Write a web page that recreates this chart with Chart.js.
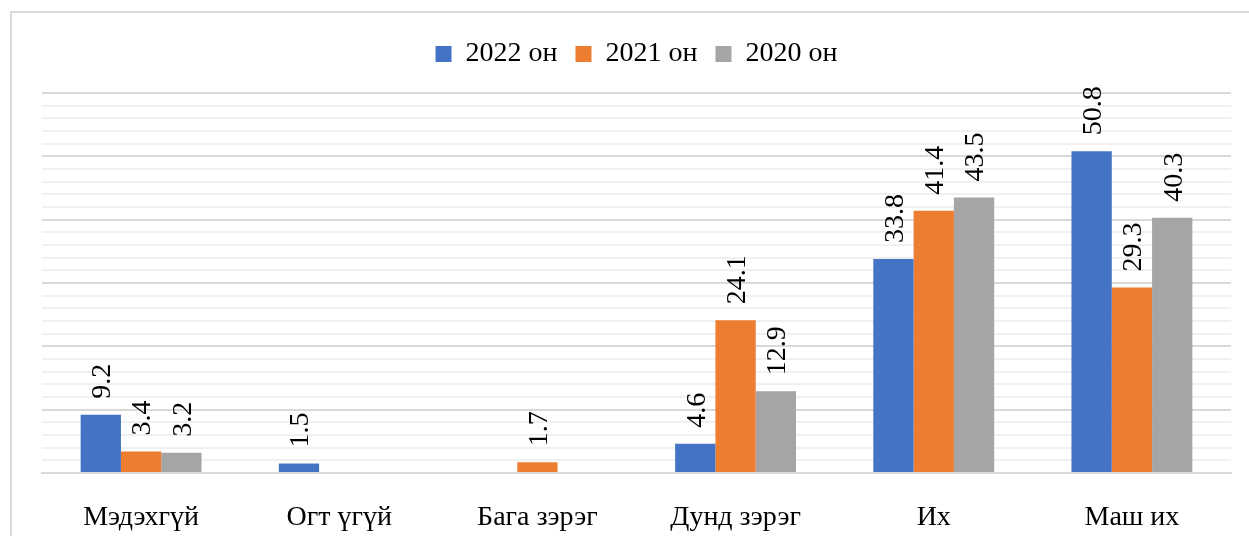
<!DOCTYPE html>
<html>
<head>
<meta charset="utf-8">
<script src="https://cdn.jsdelivr.net/npm/chart.js@4.4.1/dist/chart.umd.min.js"></script>
<style>
  html, body { margin: 0; padding: 0; background: #fff; overflow: hidden; }
  #wrap { position: relative; width: 1249px; height: 536px; }
  #frame { position: absolute; left: 10px; top: 11px; width: 1260px; height: 560px; border: 2px solid #d9d9d9; box-sizing: border-box; }
  #chart-box { position: absolute; left: 0; top: 0; width: 1249px; height: 536px; }
</style>
</head>
<body>
<div id="wrap">
  <div id="frame"></div>
  <div id="chart-box"><canvas id="chart"></canvas></div>
</div>
<script>
// categories and series (percent)
const categories = ['Мэдэхгүй', 'Огт үгүй', 'Бага зэрэг', 'Дунд зэрэг', 'Их', 'Маш их'];
const series2022 = [9.2, 1.5, null, 4.6, 33.8, 50.8];
const series2021 = [3.4, null, 1.7, 24.1, 41.4, 29.3];
const series2020 = [3.2, null, null, 12.9, 43.5, 40.3];
const seriesNames = ['2022 он', '2021 он', '2020 он'];

const FONT = '"Liberation Serif", "Times New Roman", serif';
const FONT_SIZE = 28;

// draws the rotated value labels above each bar
const barLabels = {
    id: 'barLabels',
    afterDatasetsDraw(chart) {
        const ctx = chart.ctx;
        ctx.save();
        ctx.font = FONT_SIZE + 'px ' + FONT;
        ctx.fillStyle = '#000';
        ctx.textAlign = 'left';
        ctx.textBaseline = 'middle';
        chart.data.datasets.forEach((ds, i) => {
            const meta = chart.getDatasetMeta(i);
            meta.data.forEach((bar, j) => {
                const v = ds.data[j];
                if (v === null || v === undefined) return;
                ctx.save();
                ctx.translate(bar.x + 2, bar.y - 16);
                ctx.rotate(-Math.PI / 2);
                ctx.fillText(v.toFixed(1), 0, 0);
                ctx.restore();
            });
        });
        ctx.restore();
    }
};

// a bit more room under the legend
const legendGap = {
    id: 'legendGap',
    beforeInit(chart) {
        const fit = chart.legend.fit;
        chart.legend.fit = function() {
            fit.bind(chart.legend)();
            this.height += 15;
        };
    }
};

const ctx = document.getElementById('chart').getContext('2d');
new Chart(ctx, {
    type: 'bar',
    data: {
        labels: categories,
        datasets: [
            { label: seriesNames[0], data: series2022, backgroundColor: '#4472C4' },
            { label: seriesNames[1], data: series2021, backgroundColor: '#ED7D31' },
            { label: seriesNames[2], data: series2020, backgroundColor: '#A5A5A5' }
        ]
    },
    options: {
        responsive: true,
        maintainAspectRatio: false,
        animation: false,
        datasets: {
            bar: { categoryPercentage: 0.61, barPercentage: 1.0 }
        },
        layout: { padding: { left: 42, right: 18, top: 22, bottom: 0 } },
        plugins: {
            legend: {
                position: 'top',
                labels: {
                    font: { family: FONT, size: FONT_SIZE },
                    color: '#000',
                    boxWidth: 16,
                    boxHeight: 16,
                    padding: 18
                }
            },
            tooltip: { enabled: false }
        },
        scales: {
            x: {
                grid: { display: false },
                border: { color: '#d9d9d9', width: 2 },
                ticks: {
                    font: { family: FONT, size: FONT_SIZE },
                    color: '#000',
                    padding: 20
                },
                afterFit(scale) { scale.height = 63; }
            },
            y: {
                min: 0,
                max: 60,
                ticks: { display: false, stepSize: 2 },
                border: { display: false },
                grid: {
                    drawTicks: false,
                    lineWidth: 2,
                    color: c => (c.tick && c.tick.value % 10 === 0) ? '#d9d9d9' : '#f0f0f0'
                }
            }
        }
    },
    plugins: [barLabels, legendGap]
});
</script>
</body>
</html>
